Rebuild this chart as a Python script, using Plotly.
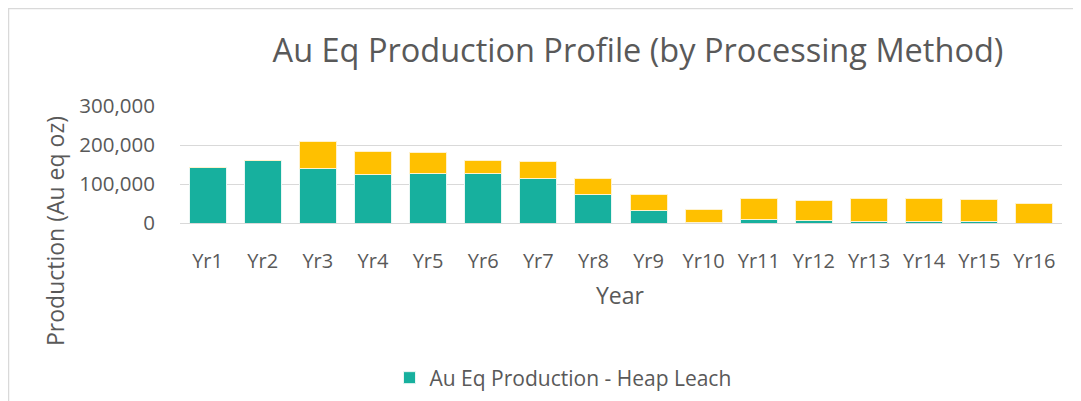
import plotly.graph_objects as go

years = [f"Yr{i}" for i in range(1, 17)]
heap_leach = [143000, 159000, 139000, 124000, 128000, 128000, 114000, 72000,
              31000, 1000, 9000, 6000, 4000, 3000, 3000, 0]
mill = [0, 0, 69000, 60000, 53000, 31000, 43000, 42000,
        41000, 34000, 53000, 52000, 59000, 61000, 57000, 50000]

TEXT = "#595959"
GRID = "#D9D9D9"
FONT = "Open Sans"

# page has an 8px body margin, so the figure sits 8px right/down of the screen origin
OFF = 8
W, H = 1081, 401
# plot area in screen pixels: x 180..1062, y 106..223
L, R, T, B = 180 - OFF, W - (1062 - OFF), 106 - OFF, H - (223 - OFF)
pw = W - L - R
ph = H - T - B


def px_x(x):
    return (x - OFF - L) / pw


def px_y(y):
    return (H - B - (y - OFF)) / ph


fig = go.Figure()
fig.add_trace(go.Bar(x=years, y=heap_leach, name="Au Eq Production - Heap Leach",
                     marker=dict(color="#17B09E", line=dict(color="#E8F6F3", width=1))))
fig.add_trace(go.Bar(x=years, y=mill, name="Au Eq Production - Mill", showlegend=False,
                     marker=dict(color="#FFC000", line=dict(color="#FFF2CC", width=1))))

fig.update_layout(
    barmode="stack",
    bargap=0.33,
    width=W, height=H,
    margin=dict(l=L, r=R, t=T, b=B, autoexpand=False),
    paper_bgcolor="white", plot_bgcolor="white",
    font=dict(family=FONT, color=TEXT, size=20),
    title=dict(text="Au Eq Production Profile (by Processing Method)",
               x=(638 - OFF) / W, xanchor="center", y=1 - (51 - OFF) / H, yanchor="middle",
               yref="container", font=dict(size=32.5, color=TEXT, family=FONT)),
    showlegend=True,
    legend=dict(orientation="h", x=px_x(563), xanchor="center",
                y=px_y(378), yanchor="middle", font=dict(size=21, color=TEXT)),
)

fig.update_yaxes(range=[0, 300000], tickvals=[0, 100000, 200000, 300000],
                 tickformat=",d", showgrid=True, gridcolor=GRID, gridwidth=1,
                 zeroline=True, zerolinecolor=GRID, zerolinewidth=1,
                 ticks="outside", ticklen=20, tickcolor="rgba(0,0,0,0)",
                 tickfont=dict(size=20.5, color=TEXT), showline=False)
fig.update_xaxes(showgrid=False, showline=False, ticks="outside", ticklen=20,
                 tickcolor="rgba(0,0,0,0)", tickfont=dict(size=20, color=TEXT))

fig.add_annotation(text="Year", xref="paper", yref="paper", x=px_x(620), y=px_y(295),
                   showarrow=False, font=dict(size=23, color=TEXT), xanchor="center", yanchor="middle")
fig.add_annotation(text="Production (Au eq oz)", xref="paper", yref="paper",
                   x=px_x(55), y=px_y(231), textangle=-90, showarrow=False,
                   font=dict(size=23, color=TEXT), xanchor="center", yanchor="middle")

# chart border (light gray frame, as close to the edge as the page allows)
fig.add_shape(type="rect", xref="paper", yref="paper",
              x0=px_x(8.5), x1=px_x(1100), y0=px_y(8.5), y1=px_y(420),
              line=dict(color=GRID, width=1.5), layer="below")

fig.write_html("out.html")
